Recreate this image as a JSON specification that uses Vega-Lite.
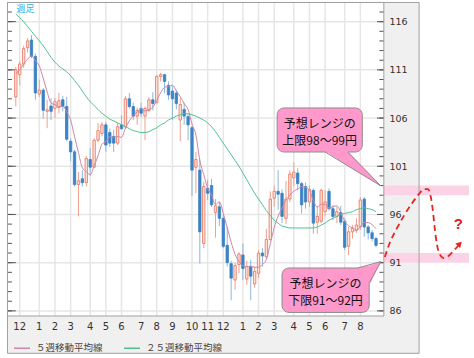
{
 "$schema": "https://vega.github.io/schema/vega-lite/v6.json",
 "width": 472, "height": 314,
 "autosize": {"type": "none"},
 "padding": {"left": 2, "top": 2, "right": 0, "bottom": 42},
 "background": "white",
 "config": {"view": {"stroke": null}, "font": "DejaVu Sans"},
 "datasets": {
  "candles": [
   {"w":0,"o":108.2,"h":111.3,"l":107.2,"c":111.0,"m5":110.6,"m25":116.8},
   {"w":1,"o":110.5,"h":111.9,"l":109.4,"c":111.6,"m5":111.0,"m25":116.4},
   {"w":2,"o":111.6,"h":113.5,"l":111.2,"c":113.2,"m5":111.6,"m25":116.0},
   {"w":3,"o":113.3,"h":114.3,"l":112.8,"c":114.0,"m5":112.1,"m25":115.5},
   {"w":4,"o":114.1,"h":114.6,"l":112.2,"c":112.4,"m5":112.44,"m25":115.0},
   {"w":5,"o":112.4,"h":112.7,"l":107.9,"c":108.6,"m5":111.96,"m25":114.5},
   {"w":6,"o":108.5,"h":110.0,"l":108.2,"c":108.9,"m5":111.42,"m25":114.0},
   {"w":7,"o":108.9,"h":109.1,"l":105.9,"c":106.8,"m5":110.14,"m25":113.5},
   {"w":8,"o":106.7,"h":107.9,"l":104.95,"c":106.85,"m5":108.71,"m25":112.9},
   {"w":9,"o":107.25,"h":108.05,"l":105.8,"c":106.7,"m5":107.57,"m25":112.3},
   {"w":10,"o":107.0,"h":108.1,"l":106.0,"c":107.7,"m5":107.39,"m25":111.8},
   {"w":11,"o":107.1,"h":108.6,"l":106.5,"c":107.8,"m5":107.17,"m25":111.4},
   {"w":12,"o":107.9,"h":108.3,"l":106.7,"c":107.2,"m5":107.25,"m25":111.1},
   {"w":13,"o":107.2,"h":108.2,"l":103.6,"c":103.8,"m5":106.64,"m25":110.8},
   {"w":14,"o":103.6,"h":103.9,"l":101.5,"c":102.5,"m5":105.8,"m25":110.4},
   {"w":15,"o":102.5,"h":102.7,"l":98.9,"c":99.1,"m5":104.08,"m25":109.9},
   {"w":16,"o":99.1,"h":100.4,"l":95.8,"c":99.5,"m5":102.42,"m25":109.4},
   {"w":17,"o":99.7,"h":100.6,"l":98.9,"c":99.3,"m5":100.84,"m25":108.8},
   {"w":18,"o":99.3,"h":102.1,"l":98.9,"c":101.8,"m5":100.44,"m25":108.2},
   {"w":19,"o":101.7,"h":102.9,"l":100.0,"c":100.9,"m5":100.12,"m25":107.7},
   {"w":20,"o":100.9,"h":103.9,"l":100.8,"c":103.7,"m5":101.04,"m25":107.3},
   {"w":21,"o":103.7,"h":105.5,"l":103.5,"c":104.7,"m5":102.08,"m25":106.9},
   {"w":22,"o":104.4,"h":105.6,"l":104.1,"c":105.3,"m5":103.28,"m25":106.5},
   {"w":23,"o":105.3,"h":105.6,"l":102.5,"c":103.2,"m5":103.56,"m25":106.2},
   {"w":24,"o":104.5,"h":104.9,"l":103.0,"c":103.4,"m5":104.06,"m25":105.9},
   {"w":25,"o":104.1,"h":104.8,"l":102.5,"c":103.4,"m5":104.0,"m25":105.7},
   {"w":26,"o":103.4,"h":105.5,"l":103.2,"c":105.1,"m5":104.08,"m25":105.5},
   {"w":27,"o":105.3,"h":106.3,"l":104.8,"c":104.9,"m5":104.0,"m25":105.3},
   {"w":28,"o":105.1,"h":108.3,"l":104.9,"c":108.0,"m5":104.96,"m25":105.1},
   {"w":29,"o":108.0,"h":108.6,"l":107.0,"c":107.2,"m5":105.72,"m25":104.9},
   {"w":30,"o":107.2,"h":107.6,"l":105.8,"c":106.2,"m5":106.28,"m25":104.7},
   {"w":31,"o":106.2,"h":107.1,"l":105.3,"c":106.8,"m5":106.62,"m25":104.6},
   {"w":32,"o":107.0,"h":107.6,"l":106.1,"c":106.5,"m5":106.94,"m25":104.5},
   {"w":33,"o":106.2,"h":107.2,"l":103.7,"c":107.0,"m5":106.74,"m25":104.5},
   {"w":34,"o":106.8,"h":108.2,"l":106.6,"c":107.9,"m5":106.88,"m25":104.6},
   {"w":35,"o":107.9,"h":108.7,"l":106.8,"c":107.5,"m5":107.14,"m25":104.8},
   {"w":36,"o":107.6,"h":110.5,"l":107.5,"c":110.3,"m5":107.84,"m25":105.0},
   {"w":37,"o":110.3,"h":110.7,"l":109.8,"c":110.5,"m5":108.64,"m25":105.3},
   {"w":38,"o":110.5,"h":110.6,"l":108.6,"c":109.8,"m5":109.2,"m25":105.5},
   {"w":39,"o":109.4,"h":109.8,"l":107.9,"c":108.4,"m5":109.3,"m25":105.8},
   {"w":40,"o":108.8,"h":109.3,"l":105.8,"c":108.0,"m5":109.4,"m25":106.0},
   {"w":41,"o":108.6,"h":108.9,"l":106.9,"c":107.5,"m5":108.84,"m25":106.2},
   {"w":42,"o":105.8,"h":108.05,"l":103.6,"c":107.4,"m5":108.22,"m25":106.35},
   {"w":43,"o":106.9,"h":107.6,"l":105.3,"c":106.2,"m5":107.5,"m25":106.45},
   {"w":44,"o":106.15,"h":106.4,"l":103.7,"c":105.3,"m5":106.88,"m25":106.45},
   {"w":45,"o":105.0,"h":105.2,"l":97.9,"c":100.6,"m5":105.4,"m25":106.35},
   {"w":46,"o":100.9,"h":102.5,"l":98.2,"c":101.7,"m5":104.24,"m25":106.2},
   {"w":47,"o":100.6,"h":101.7,"l":90.9,"c":94.2,"m5":101.6,"m25":106.0},
   {"w":48,"o":93.0,"h":99.4,"l":92.5,"c":98.9,"m5":100.14,"m25":105.8},
   {"w":49,"o":98.7,"h":99.6,"l":97.5,"c":98.2,"m5":98.72,"m25":105.5},
   {"w":50,"o":99.0,"h":99.7,"l":96.8,"c":97.0,"m5":98.0,"m25":105.1},
   {"w":51,"o":96.2,"h":97.6,"l":93.6,"c":96.9,"m5":97.04,"m25":104.6},
   {"w":52,"o":96.8,"h":97.3,"l":94.8,"c":95.6,"m5":97.32,"m25":104.0},
   {"w":53,"o":95.6,"h":96.0,"l":92.5,"c":92.7,"m5":96.08,"m25":103.4},
   {"w":54,"o":92.8,"h":94.7,"l":90.6,"c":91.0,"m5":94.64,"m25":102.8},
   {"w":55,"o":90.9,"h":91.2,"l":87.1,"c":89.4,"m5":93.12,"m25":102.2},
   {"w":56,"o":89.2,"h":91.0,"l":88.2,"c":90.7,"m5":91.88,"m25":101.6},
   {"w":57,"o":90.8,"h":92.1,"l":89.9,"c":91.9,"m5":91.14,"m25":101.0},
   {"w":58,"o":91.8,"h":93.0,"l":89.2,"c":90.4,"m5":90.68,"m25":100.3},
   {"w":59,"o":89.3,"h":91.2,"l":88.7,"c":90.6,"m5":90.6,"m25":99.6},
   {"w":60,"o":90.6,"h":91.3,"l":87.1,"c":89.6,"m5":90.64,"m25":98.9},
   {"w":61,"o":88.8,"h":90.6,"l":88.4,"c":90.1,"m5":90.52,"m25":98.2},
   {"w":62,"o":89.9,"h":92.3,"l":89.4,"c":92.0,"m5":90.54,"m25":97.6},
   {"w":63,"o":92.0,"h":92.5,"l":90.6,"c":91.7,"m5":90.8,"m25":97.0},
   {"w":64,"o":91.6,"h":94.5,"l":91.4,"c":93.4,"m5":91.36,"m25":96.4},
   {"w":65,"o":93.4,"h":98.4,"l":93.3,"c":97.6,"m5":92.96,"m25":95.9},
   {"w":66,"o":97.7,"h":99.0,"l":96.8,"c":98.4,"m5":94.62,"m25":95.4},
   {"w":67,"o":98.4,"h":100.6,"l":96.5,"c":98.1,"m5":95.84,"m25":95.1},
   {"w":68,"o":98.2,"h":98.6,"l":95.1,"c":95.8,"m5":96.66,"m25":94.8},
   {"w":69,"o":95.6,"h":99.5,"l":95.0,"c":97.6,"m5":97.5,"m25":94.7},
   {"w":70,"o":97.6,"h":100.6,"l":97.3,"c":100.2,"m5":98.02,"m25":94.6},
   {"w":71,"o":99.8,"h":101.4,"l":98.9,"c":100.4,"m5":98.42,"m25":94.6},
   {"w":72,"o":100.3,"h":100.8,"l":98.5,"c":99.2,"m5":98.64,"m25":94.6},
   {"w":73,"o":99.2,"h":99.4,"l":96.1,"c":97.0,"m5":98.88,"m25":94.6},
   {"w":74,"o":98.9,"h":99.3,"l":96.6,"c":97.3,"m5":98.82,"m25":94.6},
   {"w":75,"o":97.3,"h":99.0,"l":96.8,"c":98.6,"m5":98.5,"m25":94.6},
   {"w":76,"o":98.5,"h":98.7,"l":94.0,"c":95.1,"m5":97.44,"m25":94.6},
   {"w":77,"o":95.2,"h":96.9,"l":94.0,"c":95.8,"m5":96.76,"m25":94.7},
   {"w":78,"o":95.3,"h":98.7,"l":95.1,"c":98.5,"m5":97.06,"m25":94.9},
   {"w":79,"o":96.3,"h":98.5,"l":95.8,"c":97.3,"m5":97.06,"m25":95.1},
   {"w":80,"o":98.4,"h":98.7,"l":96.4,"c":96.6,"m5":96.66,"m25":95.4},
   {"w":81,"o":96.6,"h":97.0,"l":95.4,"c":95.8,"m5":96.8,"m25":95.6},
   {"w":82,"o":95.8,"h":96.8,"l":95.1,"c":96.3,"m5":96.9,"m25":95.8},
   {"w":83,"o":96.2,"h":96.9,"l":94.9,"c":95.2,"m5":96.24,"m25":96.0},
   {"w":84,"o":95.3,"h":95.6,"l":92.3,"c":92.6,"m5":95.3,"m25":96.1},
   {"w":85,"o":92.7,"h":94.7,"l":91.8,"c":94.2,"m5":94.82,"m25":96.2},
   {"w":86,"o":94.2,"h":94.9,"l":93.5,"c":94.6,"m5":94.58,"m25":96.3},
   {"w":87,"o":94.4,"h":95.6,"l":94.1,"c":94.9,"m5":94.3,"m25":96.5},
   {"w":88,"o":94.7,"h":97.8,"l":94.4,"c":97.5,"m5":94.76,"m25":96.6},
   {"w":89,"o":97.6,"h":97.8,"l":93.7,"c":94.7,"m5":95.18,"m25":96.7},
   {"w":90,"o":94.7,"h":94.9,"l":93.4,"c":94.1,"m5":95.16,"m25":96.6},
   {"w":91,"o":94.1,"h":94.4,"l":93.2,"c":93.5,"m5":94.94,"m25":96.5},
   {"w":92,"o":93.5,"h":93.7,"l":92.6,"c":92.8,"m5":94.52,"m25":96.3}
  ],
  "months": [{"m":1,"lab":"12"},{"m":6,"lab":"1"},{"m":10,"lab":"2"},{"m":14,"lab":"3"},{"m":19,"lab":"4"},{"m":23,"lab":"5"},{"m":27,"lab":"6"},{"m":32,"lab":"7"},{"m":36,"lab":"8"},{"m":40,"lab":"9"},{"m":45,"lab":"10"},{"m":49,"lab":"11"},{"m":53,"lab":"12"},{"m":58,"lab":"1"},{"m":62,"lab":"2"},{"m":66,"lab":"3"},{"m":71,"lab":"4"},{"m":75,"lab":"5"},{"m":79,"lab":"6"},{"m":84,"lab":"7"},{"m":88,"lab":"8"}],
  "major": [{"v":86},{"v":91},{"v":96},{"v":101},{"v":106},{"v":111},{"v":116}],
  "minor": [{"v":86},{"v":87},{"v":88},{"v":89},{"v":90},{"v":91},{"v":92},{"v":93},{"v":94},{"v":95},{"v":96},{"v":97},{"v":98},{"v":99},{"v":100},{"v":101},{"v":102},{"v":103},{"v":104},{"v":105},{"v":106},{"v":107},{"v":108},{"v":109},{"v":110},{"v":111},{"v":112},{"v":113},{"v":114},{"v":115},{"v":116},{"v":117}],
  "bands": [{"lo":98,"hi":99},{"lo":91,"hi":92}],
  "curve": [
   {"w":94.25,"v":91.59},{"w":95.5,"v":93.04},{"w":97.25,"v":94.5},{"w":99.25,"v":95.95},{"w":101.25,"v":97.19},{"w":103.0,"v":98.13},{"w":104.25,"v":98.64},{"w":105.25,"v":98.64},{"w":106.0,"v":97.81},{"w":106.5,"v":96.46},{"w":107.0,"v":94.59},{"w":107.5,"v":93.04},{"w":108.25,"v":91.9},{"w":109.25,"v":91.48},{"w":110.5,"v":91.69},{"w":112.0,"v":92.31},{"w":113.3,"v":92.9}
  ],
  "upPointer": [{"w":79,"t":102.59,"b":102.59},{"w":84.75,"t":102.59,"b":101.06},{"w":93.25,"t":98.96,"b":98.96}],
  "upEdge": [{"w":79,"v":102.48,"s":0},{"w":93.25,"v":98.96,"s":1},{"w":84.75,"v":102.48,"s":2}],
  "loPointer": [{"w":87.25,"t":90.52,"b":90.52},{"w":90.4,"t":90.72,"b":88.75},{"w":93.25,"t":91.12,"b":91.12}],
  "loEdge": [{"w":87.4,"v":90.45,"s":0},{"w":93.25,"v":91.12,"s":1},{"w":90.25,"v":88.9,"s":2}],
  "boxText": [
   {"w":77.6,"v":105.35,"t":"予想レンジの"},
   {"w":77.6,"v":103.6,"t":"上限98～99円"},
   {"w":79.1,"v":88.8,"t":"予想レンジの"},
   {"w":79.1,"v":87.0,"t":"下限91～92円"}
  ]
 },
 "layer": [
  {"data":{"values":[{}]},"mark":{"type":"rect","fill":"#f0f0f0"},
   "encoding":{
    "x":{"datum":94,"type":"quantitative","scale":{"domain":[-2.25,115.75],"nice":false,"zero":false}},
    "x2":{"datum":103},
    "y":{"datum":81.6,"type":"quantitative","scale":{"domain":[85.47,118.04],"nice":false,"zero":false}},
    "y2":{"datum":117.99}}},
  {"data":{"values":[{}]},"mark":{"type":"rect","fill":"#f0f0f0"},
   "encoding":{
    "x":{"datum":-2.125,"type":"quantitative"},"x2":{"datum":103},
    "y":{"datum":81.6,"type":"quantitative"},"y2":{"datum":85.47}}},
  {"data":{"name":"bands"},"mark":{"type":"rect","fill":"#fcd3e6"},
   "encoding":{
    "x":{"datum":94,"type":"quantitative"},"x2":{"datum":115.75},
    "y":{"field":"lo","type":"quantitative"},"y2":{"field":"hi"}}},
  {"data":{"name":"major"},"mark":{"type":"rule","stroke":"#e6e6e6","strokeWidth":1.5},
   "encoding":{
    "x":{"datum":-2.125,"type":"quantitative"},"x2":{"datum":94},
    "y":{"field":"v","type":"quantitative",
     "axis":{"orient":"right","offset":-87,"values":[86,91,96,101,106,111,116],"ticks":false,"domain":false,"grid":false,"labelPadding":2,"labelFont":"DejaVu Sans","labelFontSize":9.5,"labelColor":"#333","title":null,"zindex":1,"labelOverlap":false}}}},
  {"data":{"name":"months"},"mark":{"type":"rule","stroke":"#e6e6e6","strokeWidth":1.5},
   "encoding":{
    "x":{"field":"m","type":"quantitative",
     "axis":{"orient":"bottom","labels":false,"ticks":false,"domain":false,"grid":false,"title":null}},
    "y":{"datum":85.47,"type":"quantitative"},"y2":{"datum":117.99}}},
  {"data":{"name":"minor"},"mark":{"type":"rule","stroke":"#555","strokeWidth":1},
   "encoding":{"x":{"datum":-2.125,"type":"quantitative"},"x2":{"datum":-1.0},"y":{"field":"v","type":"quantitative"}}},
  {"data":{"name":"minor"},"mark":{"type":"rule","stroke":"#555","strokeWidth":1},
   "encoding":{"x":{"datum":92.875,"type":"quantitative"},"x2":{"datum":94},"y":{"field":"v","type":"quantitative"}}},
  {"data":{"name":"major"},"mark":{"type":"rule","stroke":"#555","strokeWidth":1},
   "encoding":{"x":{"datum":-2.125,"type":"quantitative"},"x2":{"datum":0},"y":{"field":"v","type":"quantitative"}}},
  {"data":{"name":"major"},"mark":{"type":"rule","stroke":"#555","strokeWidth":1},
   "encoding":{"x":{"datum":92.25,"type":"quantitative"},"x2":{"datum":94},"y":{"field":"v","type":"quantitative"}}},
  {"data":{"name":"candles"},"mark":{"type":"rule","strokeWidth":1},
   "encoding":{
    "x":{"field":"w","type":"quantitative"},
    "y":{"field":"l","type":"quantitative"},"y2":{"field":"h"},
    "color":{"condition":{"test":"datum.c >= datum.o","value":"#f0a08e"},"value":"#8db6dc"}}},
  {"data":{"name":"candles"},"mark":{"type":"bar","size":2.4,"strokeWidth":0.8},
   "encoding":{
    "x":{"field":"w","type":"quantitative"},
    "y":{"field":"o","type":"quantitative"},"y2":{"field":"c"},
    "fill":{"condition":{"test":"datum.c >= datum.o","value":"#fde2da"},"value":"#3b82c4"},
    "stroke":{"condition":{"test":"datum.c >= datum.o","value":"#e5745c"},"value":"#3b82c4"}}},
  {"data":{"name":"candles"},"mark":{"type":"line","strokeWidth":1,"interpolate":"monotone"},
   "encoding":{
    "x":{"field":"w","type":"quantitative"},
    "y":{"field":"m5","type":"quantitative"},
    "color":{"datum":"５週移動平均線","type":"nominal",
     "scale":{"domain":["５週移動平均線","２５週移動平均線"],"range":["#cf86a6","#52bf8e"]},
     "legend":{"orient":"none","legendX":11,"legendY":337,"direction":"horizontal","title":null,
      "symbolType":"stroke","symbolSize":256,"symbolStrokeWidth":1.5,
      "labelFont":"Noto Sans CJK JP","labelFontSize":9.5,"labelColor":"#444","labelOffset":5,"columnPadding":18}}}},
  {"data":{"name":"candles"},"mark":{"type":"line","strokeWidth":1,"interpolate":"monotone"},
   "encoding":{
    "x":{"field":"w","type":"quantitative"},
    "y":{"field":"m25","type":"quantitative"},
    "color":{"datum":"２５週移動平均線","type":"nominal"}}},
  {"data":{"values":[{}]},"mark":{"type":"rect","fillOpacity":0,"stroke":"#a0a0a0","strokeWidth":1},
   "encoding":{"x":{"datum":-2.125,"type":"quantitative"},"x2":{"datum":94},"y":{"datum":85.47,"type":"quantitative"},"y2":{"datum":117.99}}},
  {"data":{"values":[{}]},"mark":{"type":"rect","fillOpacity":0,"stroke":"#a0a0a0","strokeWidth":1},
   "encoding":{"x":{"datum":-2.125,"type":"quantitative"},"x2":{"datum":103},"y":{"datum":81.6,"type":"quantitative"},"y2":{"datum":117.99}}},
  {"data":{"name":"months"},"mark":{"type":"text","font":"DejaVu Sans","fontSize":10,"color":"#333","align":"center","baseline":"middle"},
   "encoding":{"x":{"field":"m","type":"quantitative"},"y":{"datum":84.33,"type":"quantitative"},"text":{"field":"lab"}}},
  {"data":{"values":[{}]},"mark":{"type":"rect","fill":"#ff99cc","stroke":"#8c8c8c","strokeWidth":1,"cornerRadius":7},
   "encoding":{"x":{"datum":66.75,"type":"quantitative"},"x2":{"datum":88.5},"y":{"datum":102.48,"type":"quantitative"},"y2":{"datum":107.05}}},
  {"data":{"name":"upPointer"},"mark":{"type":"area","fill":"#ff99cc"},
   "encoding":{"x":{"field":"w","type":"quantitative"},"y":{"field":"t","type":"quantitative"},"y2":{"field":"b"}}},
  {"data":{"name":"upEdge"},"mark":{"type":"line","stroke":"#8c8c8c","strokeWidth":1},
   "encoding":{"x":{"field":"w","type":"quantitative"},"y":{"field":"v","type":"quantitative"},"order":{"field":"s"}}},
  {"data":{"values":[{}]},"mark":{"type":"rect","fill":"#ff99cc","stroke":"#8c8c8c","strokeWidth":1,"cornerRadius":7},
   "encoding":{"x":{"datum":68,"type":"quantitative"},"x2":{"datum":90.25},"y":{"datum":85.84,"type":"quantitative"},"y2":{"datum":90.45}}},
  {"data":{"name":"loPointer"},"mark":{"type":"area","fill":"#ff99cc"},
   "encoding":{"x":{"field":"w","type":"quantitative"},"y":{"field":"t","type":"quantitative"},"y2":{"field":"b"}}},
  {"data":{"name":"loEdge"},"mark":{"type":"line","stroke":"#8c8c8c","strokeWidth":1},
   "encoding":{"x":{"field":"w","type":"quantitative"},"y":{"field":"v","type":"quantitative"},"order":{"field":"s"}}},
  {"data":{"name":"boxText"},"mark":{"type":"text","font":"Noto Sans CJK JP","fontSize":12,"color":"#111","align":"center","baseline":"middle"},
   "encoding":{"x":{"field":"w","type":"quantitative"},"y":{"field":"v","type":"quantitative"},"text":{"field":"t"}}},
  {"data":{"name":"curve"},"mark":{"type":"line","stroke":"#e5261f","strokeWidth":1.8,"strokeDash":[6,4],"interpolate":"monotone"},
   "encoding":{"x":{"field":"w","type":"quantitative"},"y":{"field":"v","type":"quantitative"}}},
  {"data":{"values":[{}]},"mark":{"type":"point","shape":"triangle-up","angle":45,"size":45,"filled":true,"color":"#e5261f","opacity":1},
   "encoding":{"x":{"datum":113.4,"type":"quantitative"},"y":{"datum":92.95,"type":"quantitative"}}},
  {"data":{"values":[{"t":"?"}]},"mark":{"type":"text","font":"Liberation Sans","fontSize":15,"fontWeight":"bold","color":"#e02020","align":"center","baseline":"middle"},
   "encoding":{"x":{"datum":113,"type":"quantitative"},"y":{"datum":95.06,"type":"quantitative"},"text":{"field":"t"}}},
  {"data":{"values":[{"t":"週足"}]},"mark":{"type":"text","font":"Noto Sans CJK JP","fontSize":9,"color":"#33b0e8","align":"center","baseline":"middle"},
   "encoding":{"x":{"datum":2.5,"type":"quantitative"},"y":{"datum":117.3,"type":"quantitative"},"text":{"field":"t"}}}
 ]
}
